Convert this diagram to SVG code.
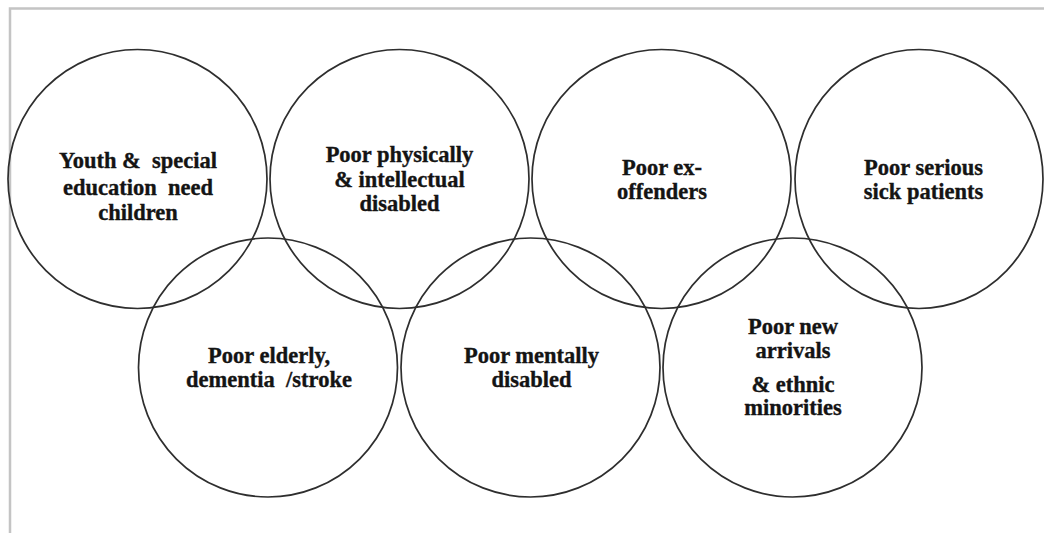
<svg xmlns="http://www.w3.org/2000/svg" width="1044" height="533" viewBox="0 0 1044 533">
<style>
.ring{fill:none;stroke:#2e2e2e;stroke-width:1.7}
.lbl{font-family:"Liberation Serif","Times New Roman",serif;font-weight:bold;font-size:22.5px;fill:#141414;stroke:#141414;stroke-width:0.35;text-anchor:middle;white-space:pre}
.frame{fill:none;stroke:#c4c4c4;stroke-width:2.5}
</style>
<rect width="1044" height="533" fill="#ffffff"/>
<path class="frame" d="M10,533 L10,8.5 L1044,8.5"/>
<g id="connectors"></g>
<g id="n1"><circle class="ring" cx="137.5" cy="179" r="129.5"/>
<text class="lbl" x="138" y="168" xml:space="preserve">Youth &amp;  special</text>
<text class="lbl" x="138" y="195" xml:space="preserve">education  need</text>
<text class="lbl" x="138" y="220">children</text></g>
<g id="n2"><circle class="ring" cx="399.5" cy="179" r="129.5"/>
<text class="lbl" x="399.5" y="162">Poor physically</text>
<text class="lbl" x="399.5" y="187">&amp; intellectual</text>
<text class="lbl" x="399.5" y="211">disabled</text></g>
<g id="n3"><circle class="ring" cx="661.5" cy="179" r="129.5"/>
<text class="lbl" x="662" y="175">Poor ex-</text>
<text class="lbl" x="662" y="198.5">offenders</text></g>
<g id="n4"><ellipse class="ring" cx="919" cy="179" rx="124" ry="129.5"/>
<text class="lbl" x="923.5" y="175">Poor serious</text>
<text class="lbl" x="923.5" y="198.5">sick patients</text></g>
<g id="n5"><circle class="ring" cx="268" cy="367.5" r="129.5"/>
<text class="lbl" x="269" y="362.5">Poor elderly,</text>
<text class="lbl" x="269" y="386.5" xml:space="preserve">dementia  /stroke</text></g>
<g id="n6"><circle class="ring" cx="530.5" cy="367.5" r="129.5"/>
<text class="lbl" x="531.5" y="362.5">Poor mentally</text>
<text class="lbl" x="531.5" y="386.5">disabled</text></g>
<g id="n7"><circle class="ring" cx="792.5" cy="367.5" r="129.5"/>
<text class="lbl" x="793" y="334">Poor new</text>
<text class="lbl" x="793" y="358">arrivals</text>
<text class="lbl" x="793" y="391.5">&amp; ethnic</text>
<text class="lbl" x="793" y="415">minorities</text></g>
</svg>
